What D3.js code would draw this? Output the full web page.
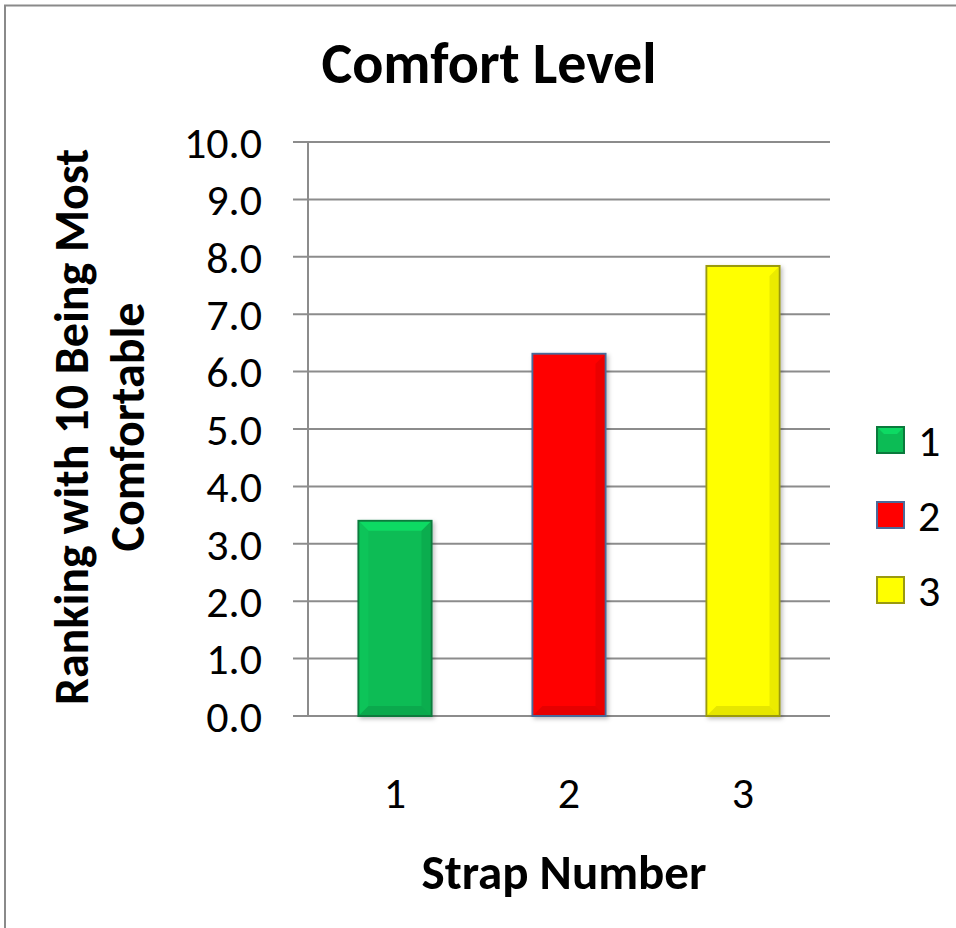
<!DOCTYPE html>
<html><head><meta charset="utf-8">
<script src="https://cdn.jsdelivr.net/npm/d3@7"></script>
<style>body{margin:0;background:#fff}svg{display:block}text{font-family:Carlito,Lato,"Open Sans",sans-serif}</style>
</head><body><svg id="c" width="956" height="928"></svg>
<script>
const categories = ["1","2","3"];
const values = [3.4, 6.31, 7.84];
const fills = ["#0cbc55","#ff0000","#ffff00"];
const edges = ["#0a7a3c","#4a6a9a","#9a9a10"];
const yTicks = [0,1,2,3,4,5,6,7,8,9,10];
const title = "Comfort Level";
const xTitle = "Strap Number";
const yTitleLines = ["Ranking with 10 Being Most","Comfortable"];

(function(){
const svg = d3.select("#c");
svg.append("rect").attr("x",5).attr("y",5.5).attr("width",960).attr("height",940)
  .attr("fill","none").attr("stroke","#8a8a8a").attr("stroke-width",2);

const pL=308, pR=830, pT=142, pB=716;
const x = d3.scaleBand().domain(categories).range([pL,pR]).paddingInner(0.58).paddingOuter(0.29);
const y = d3.scaleLinear().domain([0,10]).range([pB,pT]);

svg.append("g").selectAll("line").data(yTicks).join("line")
  .attr("x1",293).attr("x2",pR).attr("y1",d=>y(d)).attr("y2",d=>y(d))
  .attr("stroke","#8c8c8c").attr("stroke-width",2);
svg.append("line").attr("x1",pL).attr("x2",pL).attr("y1",pT).attr("y2",pB)
  .attr("stroke","#8c8c8c").attr("stroke-width",2);

svg.append("g").selectAll("text").data(yTicks).join("text")
  .attr("x",262).attr("y",d=>y(d)).attr("dy","0.36em").attr("text-anchor","end")
  .attr("font-size",44).attr("fill","#000").text(d=>d.toFixed(1));

const defs = svg.append("defs");
const f = defs.append("filter").attr("id","sh").attr("x","-20%").attr("y","-20%").attr("width","140%").attr("height","140%");
f.append("feDropShadow").attr("dx",2).attr("dy",2).attr("stdDeviation",2).attr("flood-color","#000").attr("flood-opacity",0.25);

const bars = svg.append("g").selectAll("g").data(values).join("g");
bars.each(function(v,i){
  const g=d3.select(this);
  const x0=x(categories[i]), w=x.bandwidth(), y0=y(v), h=y(0)-y(v), b=Math.min(10,w/6);
  g.append("rect").attr("x",x0).attr("y",y0).attr("width",w).attr("height",h)
    .attr("fill",fills[i]).attr("stroke",edges[i]).attr("stroke-width",2).attr("filter","url(#sh)");
  const c=d3.color(fills[i]);
  g.append("path").attr("d",`M${x0+1},${y0+1}L${x0+w-1},${y0+1}L${x0+w-b},${y0+b}L${x0+b},${y0+b}Z`)
    .attr("fill",c.brighter(0.5)).attr("opacity",0.8);
  g.append("path").attr("d",`M${x0+1},${y0+1}L${x0+b},${y0+b}L${x0+b},${y0+h-b}L${x0+1},${y0+h-1}Z`)
    .attr("fill",c.brighter(0.2)).attr("opacity",0.6);
  g.append("path").attr("d",`M${x0+w-1},${y0+1}L${x0+w-b},${y0+b}L${x0+w-b},${y0+h-b}L${x0+w-1},${y0+h-1}Z`)
    .attr("fill",c.darker(0.4)).attr("opacity",0.6);
  g.append("path").attr("d",`M${x0+1},${y0+h-1}L${x0+b},${y0+h-b}L${x0+w-b},${y0+h-b}L${x0+w-1},${y0+h-1}Z`)
    .attr("fill",c.darker(0.5)).attr("opacity",0.6);
});

svg.append("g").selectAll("text").data(categories).join("text")
  .attr("x",d=>x(d)+x.bandwidth()/2).attr("y",792).attr("dy","0.36em").attr("text-anchor","middle")
  .attr("font-size",44).text(d=>d);

svg.append("text").attr("x",489).attr("y",83).attr("text-anchor","middle")
  .attr("font-size",58).attr("font-weight","bold").text(title);
svg.append("text").attr("x",564).attr("y",889).attr("text-anchor","middle")
  .attr("font-size",49).attr("font-weight","bold").text(xTitle);
const yt = svg.append("text").attr("transform","translate(0,427) rotate(-90)").attr("text-anchor","middle")
  .attr("font-size",48).attr("font-weight","bold");
const yBase=[88,144];
yTitleLines.forEach((t,i)=>yt.append("tspan").attr("x",0).attr("y",yBase[i]).text(t));

const ly=[440,515,590];
const leg = svg.append("g").selectAll("g").data(categories).join("g")
  .attr("transform",(d,i)=>`translate(877,${ly[i]})`);
leg.append("rect").attr("x",0).attr("y",-13).attr("width",27).attr("height",26)
  .attr("fill",(d,i)=>fills[i]).attr("stroke",(d,i)=>edges[i]).attr("stroke-width",2);
leg.append("path").attr("d","M1,-12L26,-12L20,-6L7,-6Z").attr("fill",(d,i)=>d3.color(fills[i]).brighter(0.5)).attr("opacity",0.8);
leg.append("text").attr("x",41).attr("y",0).attr("dy","0.36em").attr("font-size",44).text(d=>d);
})();
</script></body></html>
